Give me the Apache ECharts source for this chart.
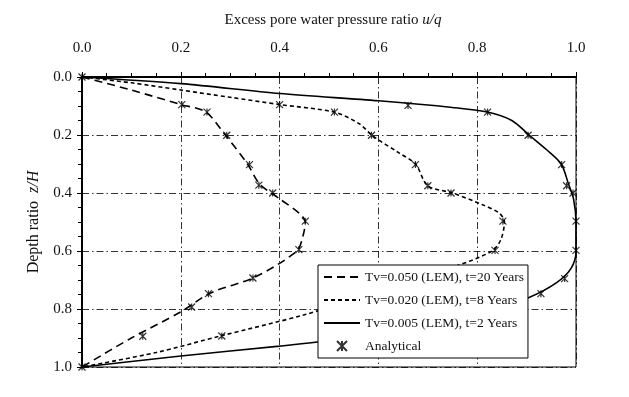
<!DOCTYPE html>
<html>
<head>
<meta charset="utf-8">
<script src="https://cdn.jsdelivr.net/npm/echarts@6/dist/echarts.min.js"></script>
<style>
html, body { margin: 0; padding: 0; background: #fff; }
#chart { width: 629px; height: 397px; }
</style>
</head>
<body>
<div id="chart"></div>
<script>
// LEM curves, points are [u/q, z/H]
const lem050 = [[0,0],[0.1,0.045],[0.2,0.095],[0.25,0.12],[0.29,0.2],[0.335,0.3],[0.36,0.37],[0.4,0.42],[0.44,0.47],[0.452,0.5],[0.447,0.55],[0.435,0.6],[0.35,0.69],[0.26,0.745],[0.2,0.81],[0.1,0.9],[0,1]]
const lem020 = [[0,0],[0.1,0.02],[0.2,0.045],[0.3,0.07],[0.4,0.095],[0.51,0.121],[0.56,0.16],[0.59,0.205],[0.64,0.26],[0.675,0.3],[0.7,0.375],[0.75,0.4],[0.81,0.44],[0.845,0.47],[0.855,0.5],[0.848,0.56],[0.83,0.6],[0.76,0.65],[0.66,0.7],[0.56,0.76],[0.45,0.82],[0.28,0.893],[0.15,0.95],[0,1]]
const lem005 = [[0,0],[0.2,0.023],[0.4,0.057],[0.6,0.082],[0.75,0.105],[0.82,0.121],[0.87,0.15],[0.905,0.2],[0.94,0.25],[0.97,0.3],[0.985,0.37],[0.995,0.42],[1,0.5],[1,0.6],[0.99,0.66],[0.96,0.71],[0.905,0.76],[0.83,0.8],[0.72,0.85],[0.6,0.885],[0.476,0.914],[0.4,0.928],[0.2,0.962],[0,1]]
// analytical solution markers
const analytical = [
  [0.202,0.095],[0.253,0.121],[0.293,0.201],[0.339,0.302],[0.358,0.373],[0.386,0.4],[0.452,0.497],[0.439,0.595],[0.346,0.693],[0.256,0.747],[0.222,0.793],[0.123,0.894],
  [0.40,0.095],[0.511,0.121],[0.586,0.201],[0.675,0.302],[0.70,0.375],[0.747,0.4],[0.852,0.497],[0.836,0.598],[0.283,0.893],
  [0.66,0.098],[0.821,0.121],[0.903,0.201],[0.971,0.302],[0.981,0.375],[0.994,0.4],[1.0,0.497],[1.0,0.598],[0.977,0.695],[0.929,0.747],
  [0,0],[0,1]
]
const seriesNames = ['Tv=0.050 (LEM), t=20 Years', 'Tv=0.020 (LEM), t=8 Years', 'Tv=0.005 (LEM), t=2 Years', 'Analytical']

const font = 'Liberation Serif'
const star = 'path://M0,0L10,10M10,0L0,10M5,0L5,10'
const chart = echarts.init(document.getElementById('chart'))

const gridLine = { show: true, lineStyle: { color: '#000', width: 0.8, type: [7, 3, 1.5, 3] } }
const lineSeries = (name, data, dash) => ({
  name: name,
  type: 'line',
  data: data,
  smooth: 0.3,
  showSymbol: false,
  symbol: 'none',
  lineStyle: { color: '#000', width: 1.6, type: dash },
  itemStyle: { color: '#000' },
  z: 3
})

const option = {
  animation: false,
  backgroundColor: '#fff',
  textStyle: { fontFamily: font, color: '#111' },
  title: {
    text: 'Excess pore water pressure ratio {i|u/q}',
    left: 328, top: 8, textAlign: 'center',
    textStyle: {
      fontFamily: font, fontSize: 15, fontWeight: 'normal', color: '#111',
      rich: { i: { fontFamily: font, fontSize: 15, fontStyle: 'italic', color: '#111' } }
    }
  },
  grid: { left: 82, top: 77, right: 53, bottom: 30, show: true, borderColor: '#000', borderWidth: 1 },
  legend: {
    orient: 'vertical', left: 318, top: 265,
    backgroundColor: '#fff', borderColor: '#000', borderWidth: 1,
    padding: [5, 4, 5, 5], itemGap: 9, itemWidth: 36, itemHeight: 10,
    textStyle: { fontFamily: font, fontSize: 13.5, color: '#111' },
    data: [
      { name: seriesNames[0], itemStyle: { opacity: 0 } },
      { name: seriesNames[1], itemStyle: { opacity: 0 } },
      { name: seriesNames[2], itemStyle: { opacity: 0 } },
      { name: seriesNames[3] }
    ]
  },
  xAxis: {
    type: 'value', position: 'top', min: 0, max: 1, interval: 0.2,
    axisLine: { lineStyle: { color: '#000', width: 2 } },
    axisTick: { inside: false, length: 5, lineStyle: { color: '#000', width: 1 } },
    minorTick: { show: true, splitNumber: 4, length: 4, lineStyle: { color: '#000', width: 1 } },
    axisLabel: { fontFamily: font, fontSize: 15, color: '#111', margin: 21, formatter: v => v.toFixed(1) },
    splitLine: gridLine
  },
  yAxis: {
    type: 'value', inverse: true, min: 0, max: 1, interval: 0.2,
    name: 'Depth ratio  {i|z/H}', nameLocation: 'middle', nameRotate: 90, nameGap: 40,
    nameTextStyle: {
      fontFamily: font, fontSize: 16, color: '#111',
      rich: { i: { fontFamily: font, fontSize: 16, fontStyle: 'italic', color: '#111' } }
    },
    axisLine: { lineStyle: { color: '#000', width: 2 } },
    axisTick: { inside: false, length: 5, lineStyle: { color: '#000', width: 1 } },
    minorTick: { show: true, splitNumber: 4, length: 4, lineStyle: { color: '#000', width: 1 } },
    axisLabel: { fontFamily: font, fontSize: 15, color: '#111', margin: 10, formatter: v => v.toFixed(1) },
    splitLine: gridLine
  },
  series: [
    lineSeries(seriesNames[0], lem050, [8, 5]),
    lineSeries(seriesNames[1], lem020, [4, 3]),
    lineSeries(seriesNames[2], lem005, 'solid'),
    {
      name: seriesNames[3],
      type: 'scatter',
      data: analytical,
      symbol: star,
      symbolSize: 7,
      itemStyle: { color: 'rgba(0,0,0,0)', borderColor: '#000', borderWidth: 1.2 },
      z: 4
    }
  ]
}
option && chart.setOption(option)
</script>
</body>
</html>
